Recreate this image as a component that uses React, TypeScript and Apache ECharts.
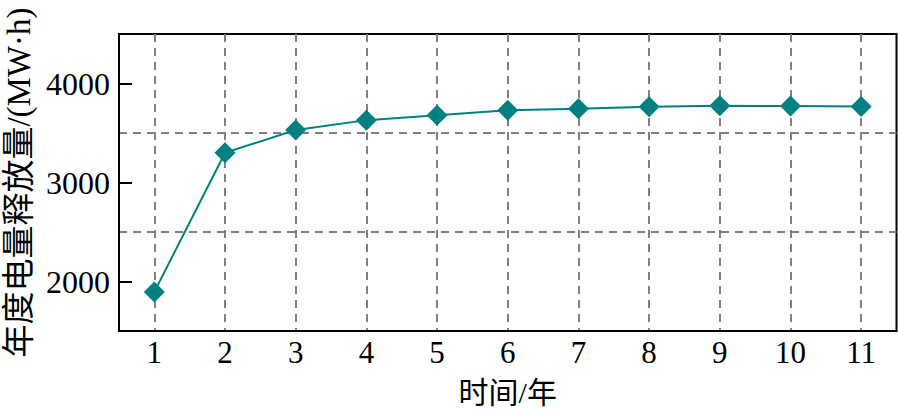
import { useEffect, useRef } from 'react';
import * as echarts from 'echarts';

// 年份序号
const years = ['1', '2', '3', '4', '5', '6', '7', '8', '9', '10', '11'];
// 年度电量释放量 (MW·h)
const releaseValues = [1895, 3300, 3530, 3630, 3680, 3730, 3745, 3765, 3775, 3773, 3768];
// 纵轴刻度
const yTickValues = [2000, 3000, 4000];

const SERIF = '"Liberation Serif", "Times New Roman", serif';
const CJK = '"Liberation Serif", "Noto Sans CJK SC", serif';
const TEAL = '#008080';
const GRID_DASH = { color: '#808080', width: 2, type: [8, 6] as number[] };

export default function App() {
    const ref = useRef<HTMLDivElement | null>(null);

    useEffect(() => {
        if (!ref.current) return;
        const chart = echarts.init(ref.current, undefined, { renderer: 'svg' });

        chart.setOption({
            animation: false,
            grid: {
                left: 119, right: 1.5, top: 34, bottom: 85,
                outerBoundsMode: 'none',
                containLabel: false,
                show: true, borderColor: '#000', borderWidth: 2
            },
            xAxis: {
                type: 'category',
                data: years,
                boundaryGap: true,
                name: '时间/年',
                nameLocation: 'middle',
                nameGap: 46,
                nameTextStyle: { fontFamily: CJK, fontSize: 30, color: '#000' },
                axisLine: { lineStyle: { color: '#000', width: 2 } },
                axisTick: { inside: true, length: 12, alignWithLabel: true, lineStyle: { color: '#000', width: 2 } },
                axisLabel: { fontFamily: SERIF, fontSize: 31, color: '#000', margin: 6 },
                splitLine: { show: true, alignWithLabel: true, lineStyle: GRID_DASH }
            },
            yAxis: [
                {
                    type: 'value',
                    min: 1500,
                    max: 4500,
                    interval: 1000,
                    axisLine: { show: true, lineStyle: { color: '#000', width: 2 } },
                    axisTick: { show: false },
                    axisLabel: { show: false },
                    splitLine: { show: true, showMinLine: false, showMaxLine: false, lineStyle: GRID_DASH }
                },
                {
                    type: 'value',
                    position: 'left',
                    min: 1500,
                    max: 4500,
                    name: '年度电量释放量/(MW·h)',
                    nameLocation: 'middle',
                    nameGap: 84,
                    nameTextStyle: { fontFamily: CJK, fontSize: 33, color: '#000' },
                    axisLine: { show: true, lineStyle: { color: '#000', width: 2 } },
                    axisTick: { show: true, inside: true, length: 13, customValues: yTickValues, lineStyle: { color: '#000', width: 2 } },
                    axisLabel: {
                        fontFamily: SERIF, fontSize: 32, color: '#000', margin: 9,
                        customValues: yTickValues,
                        formatter: (v: number) => String(v)
                    },
                    splitLine: { show: false }
                }
            ],
            series: [
                {
                    type: 'line',
                    data: releaseValues,
                    yAxisIndex: 0,
                    symbol: 'diamond',
                    symbolSize: 21,
                    itemStyle: { color: TEAL },
                    lineStyle: { color: TEAL, width: 2 }
                }
            ]
        });

        return () => chart.dispose();
    }, []);

    return (
        <div
            ref={ref}
            style={{ position: 'absolute', left: 0, top: 0, width: 898, height: 416, background: '#fff' }}
        />
    );
}
